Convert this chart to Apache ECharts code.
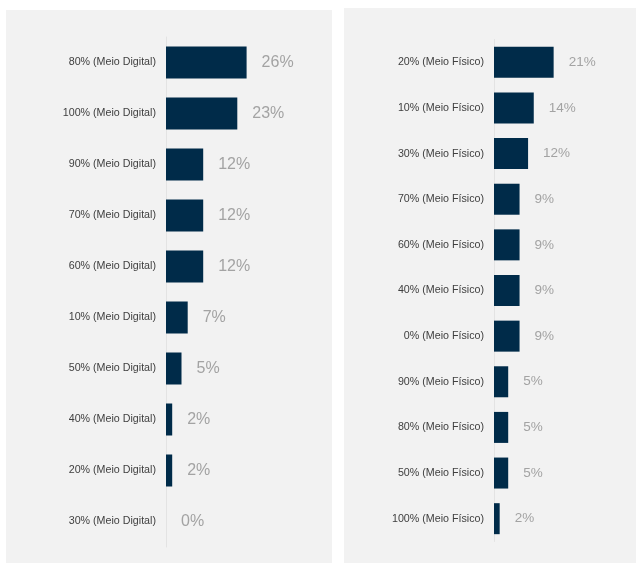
<!DOCTYPE html>
<html><head><meta charset="utf-8">
<script src="https://cdn.jsdelivr.net/npm/echarts@6/dist/echarts.min.js"></script>
<style>html,body{margin:0;padding:0;background:#fff}#c{width:636px;height:564px}</style>
</head><body><div id="c"></div>
<script>
const digitalCategories = ['80% (Meio Digital)','100% (Meio Digital)','90% (Meio Digital)','70% (Meio Digital)','60% (Meio Digital)','10% (Meio Digital)','50% (Meio Digital)','40% (Meio Digital)','20% (Meio Digital)','30% (Meio Digital)'];
const digitalValues = [26, 23, 12, 12, 12, 7, 5, 2, 2, 0];
const fisicoCategories = ['20% (Meio Físico)','10% (Meio Físico)','30% (Meio Físico)','70% (Meio Físico)','60% (Meio Físico)','40% (Meio Físico)','0% (Meio Físico)','90% (Meio Físico)','80% (Meio Físico)','50% (Meio Físico)','100% (Meio Físico)'];
const fisicoValues = [21, 14, 12, 9, 9, 9, 9, 5, 5, 5, 2];

const chart = echarts.init(document.getElementById('c'));
const FONT = '"Liberation Sans", Arial, sans-serif';
function yAx(idx, cats) {
  return {
    type: 'category', gridIndex: idx, data: cats, inverse: true,
    axisLine: {show: true, lineStyle: {color: '#e3e3e3', width: 1}},
    axisTick: {show: false},
    axisLabel: {color: '#404040', fontSize: 10.7, fontFamily: FONT, margin: 10}
  };
}
function xAx(idx) {
  return {type: 'value', gridIndex: idx, min: 0, max: 50, show: false};
}
function barSeries(idx, vals, fs, bw) {
  return {
    type: 'bar', xAxisIndex: idx, yAxisIndex: idx, data: vals, barWidth: bw,
    itemStyle: {color: '#002b49'},
    label: {show: true, position: 'right', distance: 15, formatter: '{c}%',
      color: '#a3a3a3', fontSize: fs, fontFamily: FONT},
    silent: true, animation: false
  };
}
chart.setOption({
  backgroundColor: '#ffffff',
  animation: false,
  graphic: [
    {type: 'rect', shape: {x: 6, y: 10, width: 326, height: 553}, style: {fill: '#f2f2f2'}, z: -10},
    {type: 'rect', shape: {x: 344, y: 8, width: 292, height: 555}, style: {fill: '#f2f2f2'}, z: -10}
  ],
  grid: [
    {left: 166, top: 37, width: 155, height: 510},
    {left: 494, top: 39.5, width: 147.5, height: 502}
  ],
  xAxis: [xAx(0), xAx(1)],
  yAxis: [yAx(0, digitalCategories), yAx(1, fisicoCategories)],
  series: [barSeries(0, digitalValues, 16, 32), barSeries(1, fisicoValues, 13.5, 31)]
});
</script></body></html>
